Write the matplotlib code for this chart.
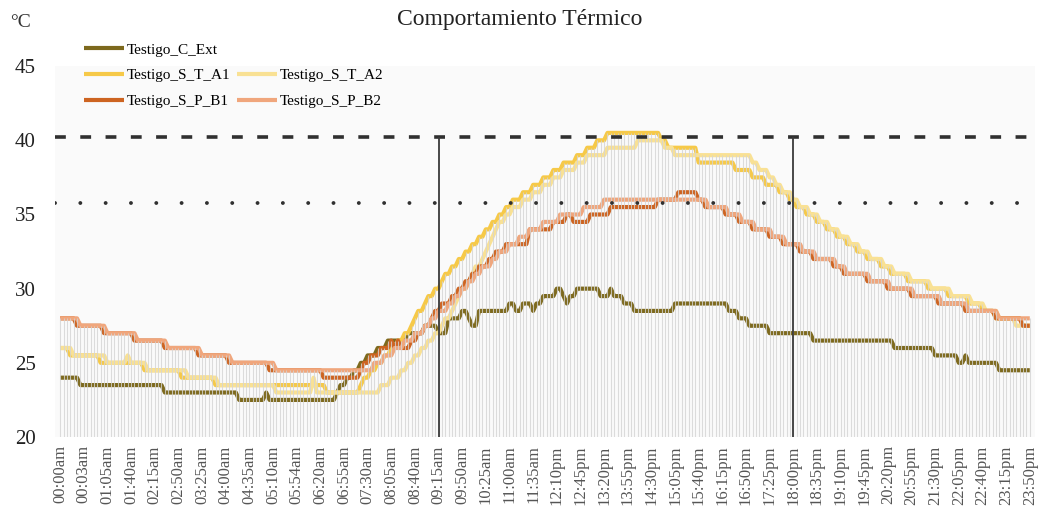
import numpy as np
import matplotlib
matplotlib.use("Agg")
import matplotlib.pyplot as plt
from matplotlib.lines import Line2D

plt.rcParams['font.family'] = ['Liberation Serif', 'DejaVu Serif']

N_POINTS = 288  # 5-minute readings over one day

tick_labels = ["00:00am", "00:03am", "01:05am", "01:40am", "02:15am", "02:50am", "03:25am",
               "04:00am", "04:35am", "05:10am", "05:54am", "06:20am", "06:55am", "07:30am",
               "08:05am", "08:40am", "09:15am", "09:50am", "10:25am", "11:00am", "11:35am",
               "12:10pm", "12:45pm", "13:20pm", "13:55pm", "14:30pm", "15:05pm", "15:40pm",
               "16:15pm", "16:50pm", "17:25pm", "18:00pm", "18:35pm", "19:10pm", "19:45pm",
               "20:20pm", "20:55pm", "21:30pm", "22:05pm", "22:40pm", "23:15pm", "23:50pm"]

# step-change points (reading index, temperature)
ext_idx = [0, 6, 31, 53, 61, 62, 82, 83, 85, 87, 89, 91, 94, 97, 103, 108, 112, 115, 119, 121, 122,
           124, 133, 135, 137, 140, 141, 143, 147, 149, 150, 151, 153, 160, 163, 164, 167, 170, 182,
           198, 201, 204, 210, 223, 247, 259, 266, 268, 269, 278]
ext_val = [24, 23.5, 23, 22.5, 23, 22.5, 23, 23.5, 24, 24.5, 25, 25.5, 26, 26.5, 27, 27.5, 27, 28, 28.5, 28, 27.5,
           28.5, 29, 28.5, 29, 28.5, 29, 29.5, 30, 29.5, 29, 29.5, 30, 29.5, 30, 29.5, 29, 28.5, 29,
           28.5, 28, 27.5, 27, 26.5, 26, 25.5, 25, 25.5, 25, 24.5]

a1_idx = [0, 3, 12, 25, 36, 46, 79, 89, 90, 92, 94, 96, 98, 100, 102, 104, 105, 106, 108, 109, 111, 113,
          114, 116, 118, 120, 122, 124, 126, 128, 130, 132, 134, 137, 140, 143, 146, 149, 153, 156, 159,
          162, 178, 180, 189, 200, 205, 209, 213, 216, 218, 221, 224, 227, 230, 233, 236, 239, 243, 246,
          251, 257, 263, 269, 273, 277, 285]
a1_val = [26, 25.5, 25, 24.5, 24, 23.5, 23, 23.5, 24, 24.5, 25, 25.5, 26, 26.5, 27, 27.5, 28, 28.5, 29, 29.5, 30, 30.5,
          31, 31.5, 32, 32.5, 33, 33.5, 34, 34.5, 35, 35.5, 36, 36.5, 37, 37.5, 38, 38.5, 39, 39.5, 40,
          40.5, 40, 39.5, 38.5, 38, 37.5, 37, 36.5, 36, 35.5, 35, 34.5, 34, 33.5, 33, 32.5, 32, 31.5, 31,
          30.5, 30, 29.5, 29, 28.5, 28, 27.5]

a2_idx = [0, 4, 14, 20, 21, 26, 38, 47, 64, 75, 76, 95, 98, 101, 103, 105, 107, 109, 111, 113, 114, 116,
          117, 118, 119, 121, 122, 123, 125, 126, 127, 128, 129, 130, 132, 134, 137, 140, 143, 146, 149,
          153, 156, 162, 171, 179, 182, 205, 207, 210, 212, 214, 217, 219, 222, 225, 228, 231, 234, 237,
          240, 244, 247, 252, 258, 264, 270, 274, 278, 283]
a2_val = [26, 25.5, 25, 25.5, 25, 24.5, 24, 23.5, 23, 24, 23, 23.5, 24, 24.5, 25, 25.5, 26, 26.5, 27, 27.5, 28, 28.5,
          29, 29.5, 30, 30.5, 31, 31.5, 32, 32.5, 33, 33.5, 34, 34.5, 35, 35.5, 36, 36.5, 37, 37.5, 38,
          38.5, 39, 39.5, 40, 39.5, 39, 38.5, 38, 37.5, 37, 36.5, 36, 35.5, 35, 34.5, 34, 33.5, 33, 32.5,
          32, 31.5, 31, 30.5, 30, 29.5, 29, 28.5, 28, 27.5]

b1_idx = [0, 5, 13, 22, 31, 41, 50, 62, 78, 89, 90, 92, 95, 98, 99, 100, 101, 104, 106, 108, 110, 111,
          113, 116, 118, 120, 122, 124, 127, 129, 132, 139, 146, 150, 152, 157, 163, 177, 183, 189, 191,
          197, 201, 205, 210, 214, 219, 223, 229, 232, 239, 245, 252, 260, 268, 277, 285]
b1_val = [28, 27.5, 27, 26.5, 26, 25.5, 25, 24.5, 24, 24.5, 25, 25.5, 26, 26.5, 26, 26.5, 26, 26.5, 27, 27.5, 28, 28.5,
          29, 29.5, 30, 30.5, 31, 31.5, 32, 32.5, 33, 34, 34.5, 35, 34.5, 35, 35.5, 36, 36.5, 36, 35.5,
          35, 34.5, 34, 33.5, 33, 32.5, 32, 31.5, 31, 30.5, 30, 29.5, 29, 28.5, 28, 27.5]

b2_idx = [0, 6, 14, 23, 32, 42, 51, 64, 93, 96, 99, 102, 105, 108, 110, 112, 115, 117, 119, 121, 123,
          125, 128, 130, 133, 136, 139, 143, 148, 155, 161, 192, 198, 202, 206, 211, 215, 220, 224, 230,
          233, 240, 246, 253, 261, 269, 278]
b2_val = [28, 27.5, 27, 26.5, 26, 25.5, 25, 24.5, 25, 25.5, 26, 26.5, 27, 27.5, 28, 28.5, 29, 29.5, 30, 30.5, 31,
          31.5, 32, 32.5, 33, 33.5, 34, 34.5, 35, 35.5, 36, 35.5, 35, 34.5, 34, 33.5, 33, 32.5, 32, 31.5,
          31, 30.5, 30, 29.5, 29, 28.5, 28]

upper_limit = 40.2
lower_limit = 35.8
marker_idx = [112, 217]

names = ["Testigo_C_Ext", "Testigo_S_T_A1", "Testigo_S_T_A2", "Testigo_S_P_B1", "Testigo_S_P_B2"]
colors = ["#7d691d", "#f6c948", "#f9e194", "#cd6421", "#f0a67c"]


def hold(idx, val, n=N_POINTS):
    out = np.empty(n)
    bounds = list(idx) + [n]
    for k, v in enumerate(val):
        out[bounds[k]:bounds[k + 1]] = v
    return out


series = [hold(ext_idx, ext_val), hold(a1_idx, a1_val), hold(a2_idx, a2_val),
          hold(b1_idx, b1_val), hold(b2_idx, b2_val)]
x = np.arange(N_POINTS)

fig = plt.figure(figsize=(10.39, 5.25), dpi=100)
ax = fig.add_axes([0.053, 0.1676, 0.943, 0.7064])
ax.set_facecolor("#fafafa")

handles = []
for s, name, c in zip(series, names, colors):
    h, = ax.plot(x, s, color=c, lw=3.0, solid_capstyle='butt', zorder=3, label=name)
    handles.append(h)

top = np.max(np.vstack(series), axis=0)
ax.vlines(x, 20, top, colors="#d4d4d4", lw=0.8, alpha=0.8, zorder=4)

ax.axhline(upper_limit, color="#303030", lw=2.6, ls=(0, (3, 4)), zorder=5)
ax.axhline(lower_limit, color="#303030", lw=2.8, ls=(0, (0.01, 6.5)), dash_capstyle='round', zorder=5)
for m in marker_idx:
    ax.vlines(m, 20, upper_limit, color="#3a3a3a", lw=1.3, zorder=5)

ax.set_xlim(-1.5, 288.5)
ax.set_ylim(20, 45)
ax.set_yticks([20, 25, 30, 35, 40, 45])
ax.tick_params(axis='y', length=0, labelsize=15, labelcolor="#222222", pad=14)
ax.set_xticks(x[::7])
ax.set_xticklabels(tick_labels, rotation=90, fontsize=12, color="#555555")
ax.tick_params(axis='x', length=0, pad=6)
for sp in ax.spines.values():
    sp.set_visible(False)

fig.text(0.50, 0.962, "Comportamiento Térmico", ha='center', va='center', fontsize=17, color="#222222")
fig.text(0.010, 0.958, "°C", ha='left', va='center', fontsize=14, color="#333333")

blank = Line2D([], [], color='none')
leg_handles = [handles[0], handles[1], handles[3], blank, handles[2], handles[4]]
leg_labels = [names[0], names[1], names[3], "", names[2], names[4]]
fig.legend(leg_handles, leg_labels, ncol=2, loc='upper left', bbox_to_anchor=(0.081, 0.918),
           frameon=False, fontsize=11, handlelength=2.6, handletextpad=0.2, labelspacing=0.78,
           columnspacing=0.45, borderaxespad=0, borderpad=0)

fig.savefig("out.png", dpi=100)
